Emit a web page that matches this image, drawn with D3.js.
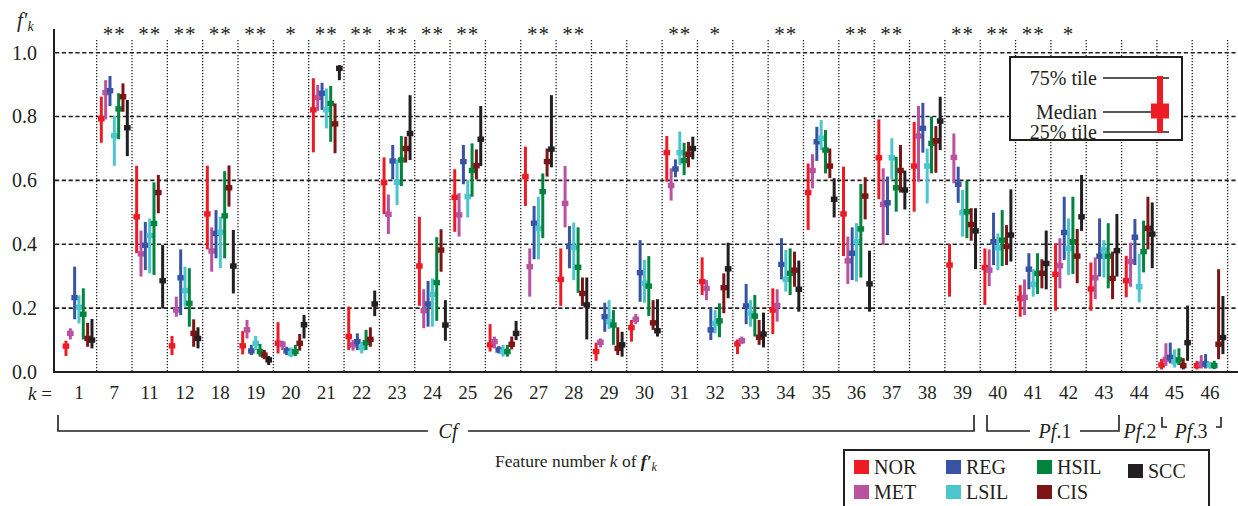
<!DOCTYPE html>
<html>
<head>
<meta charset="utf-8">
<script src="https://cdn.jsdelivr.net/npm/d3@7"></script>
<style>
  body { margin: 0; background: #fff; }
  svg text { font-family: "Liberation Serif", "Times New Roman", serif; fill: #231f20; }
</style>
</head>
<body>
<svg id="chart" width="1238" height="506"></svg>
<script>
// DATA: feature numbers k, classes, and [25% tile, median, 75% tile] per feature
const features = ["1","7","11","12","18","19","20","21","22","23","24","25","26","27","28","29","30",
                  "31","32","33","34","35","36","37","38","39","40","41","42","43","44","45","46"];
const classes = ["NOR","MET","REG","LSIL","HSIL","CIS","SCC"];
const colors  = ["#ed1c24","#b9529f","#3953a4","#4cc5cd","#00843d","#7d1416","#231f20"];
const stars = ["","**","**","**","**","**","*","**","**","**","**","**","","**","**","","",
               "**","*","","**","","**","**","","**","**","**","*","","","",""];
const yTicks = [0, 0.2, 0.4, 0.6, 0.8, 1.0];

const NOR = [[.050,.081,.098],[.718,.793,.862],[.372,.486,.646],[.053,.082,.113],[.384,.495,.646],
  [.055,.082,.128],[.058,.090,.156],[.688,.821,.920],[.069,.111,.205],[.495,.593,.672],[.207,.332,.486],
  [.439,.547,.635],[.064,.085,.150],[.520,.612,.706],[.207,.290,.387],[.035,.064,.092],[.095,.139,.163],
  [.596,.687,.739],[.241,.283,.359],[.056,.088,.102],[.119,.194,.262],[.445,.562,.653],[.363,.495,.643],
  [.541,.671,.791],[.502,.645,.783],[.236,.335,.401],[.210,.327,.387],[.173,.231,.272],[.192,.306,.403],
  [.192,.260,.343],[.234,.286,.364],[.008,.022,.041],[.008,.020,.034]];
const MET = [[.102,.121,.137],[.791,.875,.914],[.299,.370,.443],[.173,.194,.236],[.314,.379,.453],
  [.105,.132,.163],[.069,.087,.098],[.818,.860,.899],[.067,.085,.100],[.432,.494,.556],[.137,.192,.259],
  [.424,.492,.560],[.074,.095,.111],[.236,.330,.387],[.453,.528,.645],[.077,.093,.105],[.150,.165,.182],
  [.537,.584,.638],[.225,.262,.288],[.088,.098,.111],[.158,.208,.259],[.575,.631,.682],[.276,.348,.424],
  [.398,.525,.638],[.596,.739,.833],[.591,.672,.747],[.269,.319,.384],[.178,.234,.290],[.262,.333,.419],
  [.228,.295,.359],[.267,.346,.405],[.019,.040,.090],[.011,.025,.053]];
const REG = [[.165,.233,.330],[.833,.881,.927],[.319,.397,.470],[.178,.295,.384],[.356,.434,.507],
  [.053,.066,.085],[.053,.066,.079],[.821,.873,.906],[.069,.095,.121],[.603,.661,.711],[.142,.213,.285],
  [.588,.659,.711],[.058,.069,.081],[.353,.466,.520],[.325,.393,.457],[.126,.173,.217],[.220,.311,.413],
  [.610,.636,.666],[.100,.132,.203],[.150,.207,.276],[.290,.337,.419],[.661,.721,.768],[.288,.372,.453],
  [.429,.530,.612],[.687,.763,.843],[.530,.588,.643],[.335,.408,.499],[.259,.322,.372],[.351,.437,.549],
  [.299,.363,.481],[.335,.422,.479],[.027,.046,.092],[.011,.025,.056]];
const LSIL = [[.152,.203,.240],[.646,.740,.802],[.309,.427,.481],[.205,.255,.330],[.325,.438,.486],
  [.069,.090,.113],[.046,.058,.077],[.763,.821,.888],[.058,.076,.095],[.523,.594,.666],[.142,.243,.293],
  [.484,.549,.601],[.048,.064,.085],[.353,.450,.549],[.288,.390,.468],[.134,.158,.225],[.217,.278,.351],
  [.648,.687,.753],[.121,.152,.194],[.142,.184,.225],[.252,.290,.382],[.695,.732,.789],[.283,.408,.466],
  [.603,.671,.732],[.528,.645,.700],[.424,.499,.570],[.319,.389,.434],[.236,.275,.322],[.304,.387,.481],
  [.296,.382,.413],[.218,.267,.370],[.014,.032,.071],[.010,.022,.032]];
const HSIL = [[.102,.181,.262],[.729,.824,.873],[.304,.465,.594],[.142,.215,.325],[.356,.489,.629],
  [.048,.064,.088],[.050,.064,.085],[.721,.841,.896],[.069,.092,.132],[.582,.664,.739],[.160,.280,.422],
  [.549,.631,.716],[.048,.064,.085],[.419,.565,.622],[.248,.328,.453],[.085,.147,.194],[.175,.269,.363],
  [.617,.662,.718],[.109,.160,.215],[.111,.175,.241],[.241,.309,.387],[.622,.695,.758],[.296,.448,.589],
  [.502,.577,.674],[.622,.716,.800],[.419,.502,.599],[.332,.413,.507],[.244,.309,.372],[.307,.408,.549],
  [.262,.363,.466],[.312,.377,.474],[.022,.038,.074],[.009,.020,.035]];
const CIS = [[.079,.105,.154],[.815,.862,.904],[.497,.562,.617],[.079,.121,.165],[.518,.577,.647],
  [.040,.053,.069],[.067,.090,.119],[.685,.777,.841],[.079,.102,.140],[.656,.700,.737],[.314,.382,.447],
  [.603,.646,.697],[.071,.087,.111],[.612,.659,.700],[.207,.246,.296],[.053,.074,.140],[.132,.154,.225],
  [.641,.682,.721],[.184,.264,.309],[.085,.109,.163],[.267,.319,.377],[.607,.645,.700],[.478,.551,.610],
  [.562,.631,.711],[.624,.724,.770],[.411,.462,.513],[.335,.393,.460],[.262,.309,.353],[.278,.363,.448],
  [.228,.293,.377],[.384,.450,.549],[.008,.020,.043],[.040,.087,.322]];
const SCC = [[.074,.100,.166],[.676,.765,.852],[.199,.286,.398],[.074,.105,.140],[.246,.332,.445],
  [.022,.038,.050],[.105,.148,.179],[.914,.951,.961],[.175,.213,.255],[.664,.747,.867],[.098,.147,.225],
  [.645,.729,.833],[.100,.121,.160],[.641,.698,.867],[.102,.210,.296],[.048,.085,.126],[.111,.129,.228],
  [.666,.700,.737],[.231,.323,.405],[.077,.119,.186],[.189,.259,.349],[.484,.541,.607],[.189,.276,.380],
  [.509,.570,.631],[.695,.786,.862],[.322,.442,.513],[.346,.429,.572],[.259,.340,.443],[.442,.486,.617],
  [.299,.380,.495],[.325,.432,.531],[.035,.092,.208],[.056,.108,.238]];

const series = [NOR, MET, REG, LSIL, HSIL, CIS, SCC];

// SETUP
const svg = d3.select("#chart");
const axisX = 54, axisY = 372;

const x = d3.scaleBand().domain(features).range([61.3, 1227.6]);
const xc = d3.scalePoint().domain(classes).range([-13, 13]);
const y = d3.scaleLinear().domain([0, 1]).range([axisY, 52.7]);
const color = d3.scaleOrdinal().domain(classes).range(colors);

// GRID
svg.append("g").selectAll("line")
  .data(yTicks.filter(d => d > 0))
  .join("line")
  .attr("x1", axisX + 1).attr("x2", 1238)
  .attr("y1", d => y(d)).attr("y2", d => y(d))
  .attr("stroke", "#231f20").attr("stroke-width", 1.6)
  .attr("stroke-dasharray", "4.2,2.6");

const bounds = features.slice(1).map(f => x(f)).concat([x.range()[1]]);
svg.append("g").selectAll("line")
  .data(bounds)
  .join("line")
  .attr("x1", d => d).attr("x2", d => d)
  .attr("y1", 40).attr("y2", axisY)
  .attr("stroke", "#231f20").attr("stroke-width", 1.3)
  .attr("stroke-dasharray", "1.3,1.7");

// AXES
svg.append("line").attr("x1", axisX).attr("x2", axisX).attr("y1", 29).attr("y2", axisY + 1)
  .attr("stroke", "#231f20").attr("stroke-width", 2);
svg.append("line").attr("x1", axisX - 1).attr("x2", 1238).attr("y1", axisY).attr("y2", axisY)
  .attr("stroke", "#231f20").attr("stroke-width", 2);

svg.append("g")
  .attr("transform", `translate(${axisX},0)`)
  .call(d3.axisLeft(y).tickValues(yTicks).tickFormat(d3.format(".1f")).tickSize(0).tickPadding(17))
  .call(g => g.select(".domain").remove())
  .attr("font-family", null).attr("font-size", 20);

svg.append("g")
  .attr("transform", `translate(0,${axisY})`)
  .call(d3.axisBottom(x).tickSize(0).tickPadding(14))
  .call(g => g.select(".domain").remove())
  .attr("font-family", null).attr("font-size", 19);

// BOXES: 25%-75% line with median square
classes.forEach((c, j) => {
  const g = svg.append("g").attr("fill", color(c)).attr("stroke", color(c));
  g.selectAll("line")
    .data(series[j])
    .join("line")
    .attr("x1", (d, i) => x(features[i]) + x.bandwidth() / 2 + xc(c))
    .attr("x2", (d, i) => x(features[i]) + x.bandwidth() / 2 + xc(c))
    .attr("y1", d => y(d[0])).attr("y2", d => y(d[2]))
    .attr("stroke-width", 3);
  g.selectAll("rect")
    .data(series[j])
    .join("rect")
    .attr("x", (d, i) => x(features[i]) + x.bandwidth() / 2 + xc(c) - 3.3)
    .attr("y", d => y(d[1]) - 2.7)
    .attr("width", 6.6).attr("height", 5.4)
    .attr("stroke", "none");
});

// SIGNIFICANCE STARS
svg.append("g").selectAll("text")
  .data(features)
  .join("text")
  .attr("x", d => x(d) + x.bandwidth() / 2)
  .attr("y", 41)
  .attr("text-anchor", "middle")
  .attr("font-size", 21)
  .attr("letter-spacing", 1)
  .text((d, i) => stars[i]);

// AXIS TITLES
const yt = svg.append("text").attr("x", 17).attr("y", 27).attr("font-size", 21).attr("font-style", "italic");
yt.append("tspan").text("f\u2032");
yt.append("tspan").attr("font-size", 14).attr("dy", 4).text("k");

const kt = svg.append("text").attr("x", 52).attr("y", 400).attr("font-size", 19).attr("text-anchor", "end");
kt.append("tspan").attr("font-style", "italic").text("k");
kt.append("tspan").text(" =");

const ft = svg.append("text").attr("x", 576).attr("y", 467).attr("font-size", 17.5).attr("text-anchor", "middle");
ft.append("tspan").text("Feature number ");
ft.append("tspan").attr("font-style", "italic").text("k");
ft.append("tspan").text(" of ");
ft.append("tspan").attr("font-style", "italic").attr("font-weight", "bold").text("f\u2032");
ft.append("tspan").attr("font-style", "italic").attr("font-size", 12).attr("dy", 4).text("k");

// GROUP BRACKETS (Cf, Pf.1, Pf.2, Pf.3)
const br = svg.append("g").attr("stroke", "#231f20").attr("stroke-width", 1.6).attr("fill", "none");
const by = 431, bt = 415;
br.append("path").attr("d", `M58,${bt}V${by}H428M468,${by}H974V${bt}`);
br.append("path").attr("d", `M987,${bt}V${by}H1030M1080,${by}H1119V${bt}`);
br.append("path").attr("d", `M1162,${bt + 2}V${by - 4}H1167M1216,${by - 4}H1221V${bt + 2}`);

function groupLabel(cx, num) {
  const t = svg.append("text").attr("x", cx).attr("y", 438).attr("font-size", 20).attr("text-anchor", "middle");
  t.append("tspan").attr("font-style", "italic").text(num ? "Pf" : "Cf");
  if (num) t.append("tspan").text("." + num);
}
groupLabel(448, null);
groupLabel(1055, 1);
groupLabel(1140, 2);
groupLabel(1191, 3);

// INSET LEGEND (percentile key)
const key = svg.append("g");
key.append("rect").attr("x", 1010).attr("y", 57).attr("width", 172).attr("height", 83)
  .attr("fill", "#fff").attr("stroke", "#231f20").attr("stroke-width", 2);
[["75% tile", 78], ["Median", 112], ["25% tile", 132]].forEach(([label, ly]) => {
  key.append("line").attr("x1", 1103).attr("x2", 1169).attr("y1", ly).attr("y2", ly)
    .attr("stroke", "#231f20").attr("stroke-width", 1.3);
  key.append("text").attr("x", 1097).attr("y", ly + 6.5).attr("text-anchor", "end")
    .attr("font-size", 20).text(label);
});
key.append("line").attr("x1", 1160).attr("x2", 1160).attr("y1", 76).attr("y2", 133)
  .attr("stroke", colors[0]).attr("stroke-width", 6);
key.append("rect").attr("x", 1151).attr("y", 103.5).attr("width", 18).attr("height", 15).attr("fill", colors[0]);

// CLASS LEGEND
const leg = svg.append("g");
leg.append("rect").attr("x", 844).attr("y", 450).attr("width", 365).attr("height", 80)
  .attr("fill", "#fff").attr("stroke", "#231f20").attr("stroke-width", 2);
const colX = [854, 946, 1037, 1128];
classes.forEach((c, j) => {
  const cx = colX[Math.floor(j / 2)];
  const cy = c === "SCC" ? 471 : (j % 2 === 0 ? 467 : 492);
  leg.append("rect").attr("x", cx).attr("y", cy - 7).attr("width", 15).attr("height", 14).attr("fill", color(c));
  leg.append("text").attr("x", cx + 20).attr("y", cy + 7).attr("font-size", 20).text(c);
});
</script>
</body>
</html>
